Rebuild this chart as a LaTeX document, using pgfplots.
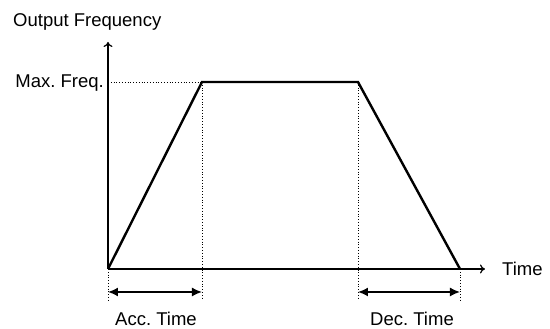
\documentclass[border=0pt]{standalone}
\usepackage{pgfplots}
\pgfplotsset{compat=1.18}
\usepackage{fontspec}
\setmainfont{Liberation Sans}
\usetikzlibrary{arrows.meta}
\frenchspacing
\newcommand{\lbl}{\fontsize{18.5}{20}\selectfont}
\begin{document}
\begin{tikzpicture}
\begin{axis}[
  scale only axis,
  width=377pt, height=227pt,
  xmin=0, xmax=377, ymin=0, ymax=227,
  axis lines=left,
  ticks=none,
  clip=false,
  axis line style={line width=1.2pt, -{To[length=5pt,width=9pt]}},
]
% bounding box
\path (axis cs:-108,-60) rectangle (axis cs:442,269);
% dotted guides
\addplot[dotted, line width=0.8pt] coordinates {(0,187) (94,187)};
\addplot[dotted, line width=0.8pt] coordinates {(94,187) (94,-31)};
\addplot[dotted, line width=0.8pt] coordinates {(250,187) (250,-31)};
\addplot[dotted, line width=0.8pt] coordinates {(352,0) (352,-31)};
\addplot[dotted, line width=0.8pt] coordinates {(0,0) (0,-31)};
% trapezoid
\addplot[black, line width=2.4pt, line join=miter] coordinates {(0,0) (94,187) (250,187) (352,0)};
% time arrows
\addplot[black, line width=1.6pt, {Latex[length=10pt,width=9pt]}-{Latex[length=10pt,width=9pt]}] coordinates {(0,-23) (94,-23)};
\addplot[black, line width=1.6pt, {Latex[length=10pt,width=9pt]}-{Latex[length=10pt,width=9pt]}] coordinates {(250,-23) (352,-23)};
% labels
\node[inner sep=0pt, anchor=base west] at (axis cs:-95,242) {\lbl Output Frequency};
\node[inner sep=0pt, anchor=base east] at (axis cs:-4,181) {\lbl Max. Freq.};
\node[inner sep=0pt, anchor=west] at (axis cs:394,0) {\lbl Time};
\node[inner sep=0pt, anchor=base] at (axis cs:48,-57) {\lbl Acc. Time};
\node[inner sep=0pt, anchor=base] at (axis cs:304,-57) {\lbl Dec. Time};
\end{axis}
\end{tikzpicture}
\end{document}
